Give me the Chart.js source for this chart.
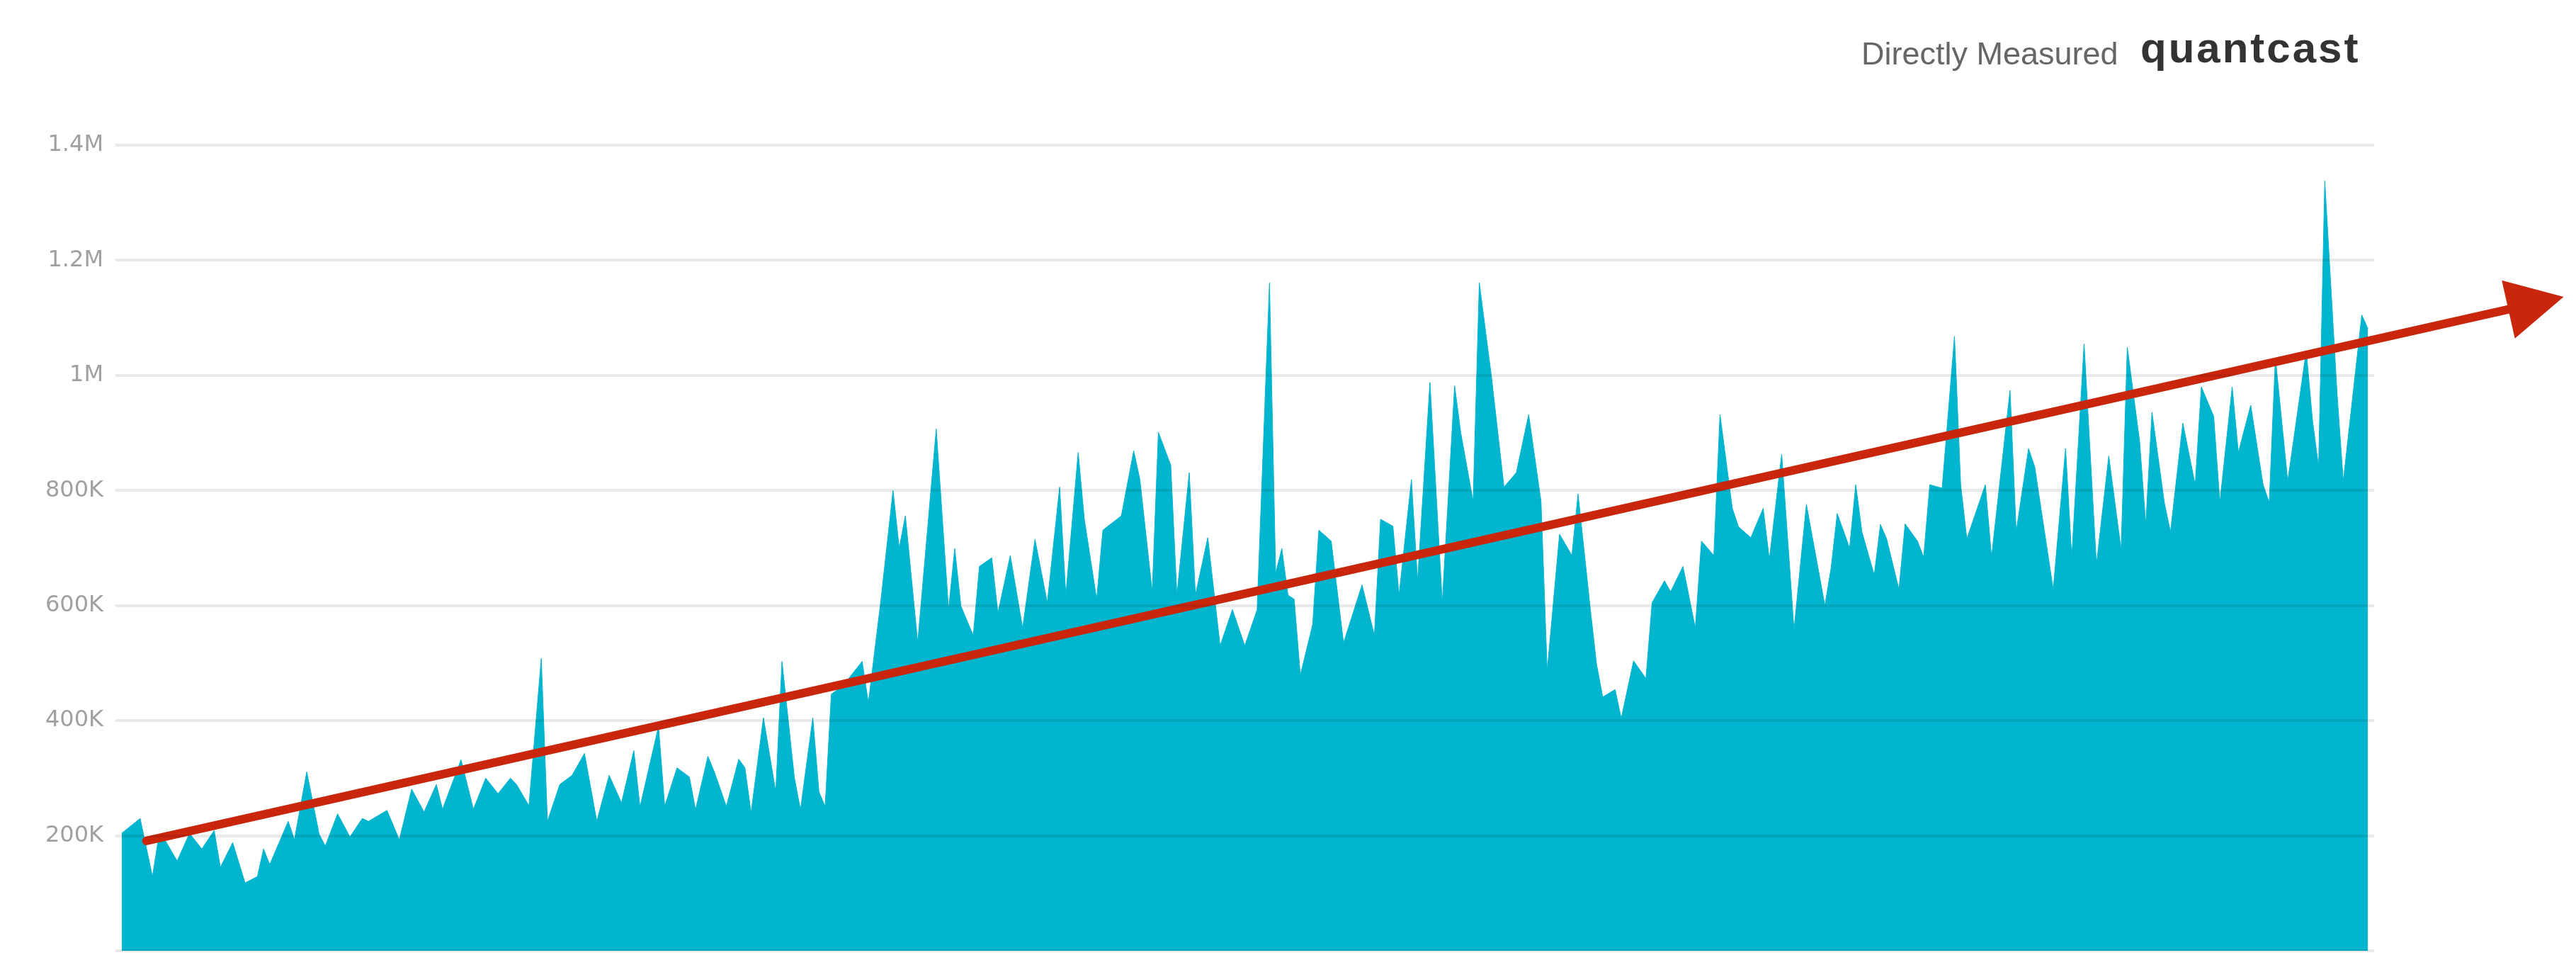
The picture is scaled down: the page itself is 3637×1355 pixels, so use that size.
<!DOCTYPE html>
<html>
<head>
<meta charset="utf-8">
<script src="https://cdn.jsdelivr.net/npm/chart.js@4.4.1/dist/chart.umd.min.js"></script>
<style>
  html, body { margin: 0; padding: 0; background: #ffffff; }
  #wrap { position: relative; width: 3637px; height: 1355px; overflow: hidden; background: #fff; }
  #c { position: absolute; left: 0; top: 0; }
  .hdr { position: absolute; white-space: nowrap; }
  #dm { left: 2628px; top: 50px; font: 45px "Liberation Sans", Arial, sans-serif; color: #666; }
  #qc { left: 3022px; top: 33px; font: bold 60px "Liberation Sans", Arial, sans-serif; color: #333; letter-spacing: 3px; }
</style>
</head>
<body>
<div id="wrap">
  <canvas id="c" width="3637" height="1355"></canvas>
  <div class="hdr" id="dm">Directly Measured</div>
  <div class="hdr" id="qc">quantcast</div>
</div>
<script>
// ---- data ----
// day index along the period
const days = [
  0,3,5,6,7,9,11,13,15,16,
  18,20,22,23,24,27,28,30,32,33,
  35,37,39,40,43,45,47,49,51,52,
  55,57,59,61,63,64,66,68,69,71,
  73,75,77,79,81,83,84,87,88,90,
  92,93,95,96,98,100,101,102,104,106,
  107,109,110,112,113,114,115,117,120,121,
  123,125,126,127,129,132,134,135,136,138,
  139,141,142,144,146,148,150,152,153,155,
  156,158,159,162,164,165,167,168,170,171,
  173,174,176,178,180,182,184,186,187,188,
  189,190,191,193,194,196,198,201,203,204,
  206,207,209,210,212,214,216,217,219,220,
  222,224,226,228,230,231,233,235,236,238,
  239,240,242,243,245,247,248,250,251,253,
  255,256,258,259,261,262,264,266,267,269,
  271,273,274,276,277,278,280,281,282,284,
  285,286,288,289,291,292,293,295,297,298,
  299,302,303,306,307,309,310,313,315,316,
  318,320,322,324,325,327,328,329,331,332,
  334,336,337,339,340,342,343,345,347,348,
  349,351,354,355,356,357,359,360,363,364
];
// visitors, in thousands
const visitorsK = [
  204,230,129,198,193,156,204,177,209,145,
  188,118,129,177,150,225,193,311,203,182,
  238,198,230,225,244,193,281,241,289,246,
  332,246,300,273,300,289,252,508,225,289,
  305,343,225,305,257,348,250,390,251,318,
  302,245,338,312,251,333,318,240,405,276,
  503,302,245,405,276,251,446,462,503,431,
  606,800,700,756,536,907,593,699,599,548,
  668,683,587,687,561,715,605,806,618,866,
  750,611,731,756,869,819,624,901,844,618,
  831,618,718,530,593,530,593,1161,656,699,
  618,611,479,567,731,712,535,636,548,750,
  738,618,819,643,988,605,982,900,781,1161,
  995,806,831,932,781,486,724,687,794,593,
  498,441,454,404,504,473,605,643,624,668,
  561,712,687,932,769,737,718,769,680,863,
  558,776,717,600,665,760,700,810,728,653,
  741,716,628,742,712,684,810,804,1068,810,
  716,810,684,974,728,873,841,628,873,684,
  1055,671,860,697,1049,885,741,936,779,728,
  917,810,980,929,779,980,866,948,810,779,
  1030,816,1043,923,841,1338,967,816,1105,1081
];
// hand-drawn trend arrow (start and end), visitors in thousands
const trendDays = [4, 391];
const trendVisitorsK = [191, 1125];
// y axis ticks
const yTickValues = [0, 200000, 400000, 600000, 800000, 1000000, 1200000, 1400000];
const yTickLabels = ['', '200K', '400K', '600K', '800K', '1M', '1.2M', '1.4M'];

const areaPoints = days.map((d, i) => ({ x: d, y: visitorsK[i] * 1000 }));
const trendPoints = trendDays.map((d, i) => ({ x: d, y: trendVisitorsK[i] * 1000 }));

const TEAL = '#02B5CE';
const RED = '#C9260C';

const arrowHead = {
  id: 'arrowHead',
  afterDatasetsDraw(chart) {
    const meta = chart.getDatasetMeta(1);
    if (!meta || meta.data.length < 2) return;
    const a = meta.data[0], b = meta.data[meta.data.length - 1];
    const dx = b.x - a.x, dy = b.y - a.y, L = Math.hypot(dx, dy);
    const ux = dx / L, uy = dy / L, nx = -uy, ny = ux;
    const tipX = b.x + ux * 42, tipY = b.y + uy * 42;
    const bx = b.x - ux * 38, by = b.y - uy * 38, hw = 42;
    const ctx = chart.ctx;
    ctx.save();
    ctx.fillStyle = RED;
    ctx.beginPath();
    ctx.moveTo(tipX, tipY);
    ctx.lineTo(bx + nx * hw, by + ny * hw);
    ctx.lineTo(bx - nx * hw, by - ny * hw);
    ctx.closePath();
    ctx.fill();
    ctx.restore();
  }
};

new Chart(document.getElementById('c'), {
  type: 'line',
  data: {
    datasets: [
      {
        data: areaPoints,
        borderColor: TEAL,
        backgroundColor: TEAL,
        borderWidth: 1,
        pointRadius: 0,
        fill: 'origin',
        tension: 0,
        order: 2
      },
      {
        data: trendPoints,
        borderColor: RED,
        borderWidth: 12,
        borderCapStyle: 'round',
        pointRadius: 0,
        fill: false,
        tension: 0,
        clip: false,
        order: 1
      }
    ]
  },
  options: {
    responsive: false,
    devicePixelRatio: 1,
    animation: false,
    events: [],
    layout: { padding: { top: 205, right: 285, bottom: 13, left: 0 } },
    plugins: { legend: { display: false }, tooltip: { enabled: false } },
    scales: {
      x: { type: 'linear', min: -1, max: 365, display: false },
      y: {
        min: 0,
        max: 1400000,
        afterBuildTicks: s => { s.ticks = yTickValues.map(v => ({ value: v })); },
        ticks: {
          callback: (v, i) => yTickLabels[i],
          color: '#a0a0a0',
          font: { family: 'DejaVu Sans', size: 32 },
          padding: 17
        },
        grid: { color: 'rgba(0,0,0,0.085)', lineWidth: 4, drawTicks: false, z: 1 },
        border: { display: false },
        afterFit: s => { s.width = 163; s.paddingTop = 0; s.paddingBottom = 0; }
      }
    }
  },
  plugins: [arrowHead]
});
</script>
</body>
</html>
